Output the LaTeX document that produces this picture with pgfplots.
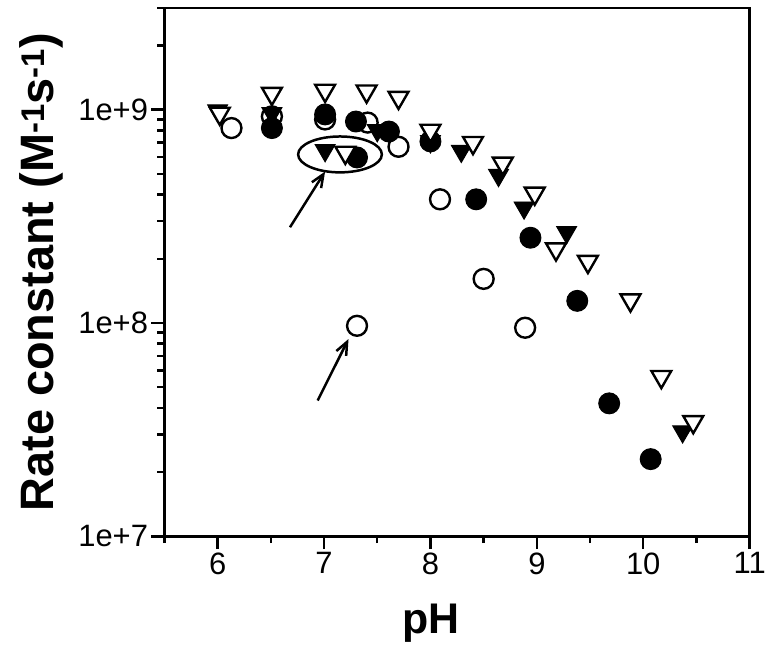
\documentclass[border=0pt]{standalone}
\usepackage{fontspec}
\setmainfont{Liberation Sans}
\usepackage{pgfplots}
\pgfplotsset{compat=1.18}
\usetikzlibrary{arrows.meta}
\begin{document}
\begin{tikzpicture}
\begin{axis}[
 width=587pt, height=530pt, scale only axis,
 xmin=5.5, xmax=11, ymin=1e7, ymax=3e9, ymode=log,
 clip=false,
 xtick={6,7,8,9,10,11}, minor xtick={5.5,6.5,7.5,8.5,9.5,10.5},
 ytick={1e7,1e8,1e9}, yticklabels={1e+7,1e+8,1e+9},
 minor ytick={2e7,3e7,4e7,5e7,6e7,7e7,8e7,9e7,2e8,3e8,4e8,5e8,6e8,7e8,8e8,9e8,2e9,3e9},
 tick align=outside, xtick pos=left, ytick pos=left,
 major tick length=13pt, minor tick length=7pt,
 tick style={black, line width=2.5pt},
 axis line style={line width=2.8pt},
 tick label style={font=\fontsize{31}{36}\selectfont},
 /pgf/number format/assume math mode=true,
 xlabel={pH},
 ylabel={Rate constant (M\textsuperscript{-1}s\textsuperscript{-1})},
 xlabel style={font=\fontsize{43}{50}\selectfont\bfseries, at={(axis description cs:0.455,-0.164)},anchor=center},
 ylabel style={font=\fontsize{47}{54}\selectfont\bfseries, at={(axis description cs:-0.21,0.5)},anchor=center},
]
% open circles
\addplot[only marks, mark=*, mark size=10pt, mark options={draw=black, fill=white, line width=2.4pt}] coordinates {
(6.13,8.2e8) (6.51,9.3e8) (7.01,9.0e8) (7.31,9.7e7) (7.41,8.7e8) (7.70,6.7e8) (8.09,3.8e8) (8.50,1.61e8) (8.89,9.5e7)
};
% filled circles
\addplot[only marks, mark=*, mark size=10.5pt, mark options={draw=black, fill=black, line width=1pt}] coordinates {
(6.51,8.2e8) (7.01,9.5e8) (7.30,8.8e8) (7.31,5.97e8) (7.61,7.9e8) (8.00,7.1e8) (8.43,3.8e8) (8.94,2.51e8) (9.38,1.27e8) (9.68,4.2e7) (10.07,2.3e7)
};
% filled triangles
\addplot[only marks, mark=triangle*, mark size=11.5pt, mark options={rotate=180, draw=black, fill=black, line width=1pt}] coordinates {
(6.00,9.9e8) (6.51,9.6e8) (7.01,6.45e8) (7.50,8.0e8) (8.00,7.1e8) (8.29,6.4e8) (8.64,4.93e8) (8.88,3.47e8) (9.28,2.66e8) (10.37,3.1e7)
};
% open triangles
\addplot[only marks, mark=triangle*, mark size=11.5pt, mark options={rotate=180, draw=black, fill=white, line width=2.4pt}] coordinates {
(6.02,9.6e8) (6.51,1.19e9) (7.01,1.23e9) (7.20,6.3e8) (7.40,1.22e9) (7.70,1.14e9) (8.00,7.99e8) (8.40,7.0e8) (8.68,5.6e8) (8.98,4.05e8) (9.18,2.22e8) (9.48,1.94e8) (9.88,1.28e8) (10.17,5.6e7) (10.47,3.44e7)
};
\draw[line width=2.5pt] (axis cs:7.15,6.17e8) ellipse [x radius=42pt, y radius=18pt];
\draw[line width=2.5pt, -{Straight Barb[length=13pt,width=11pt]}] (axis cs:6.68,2.81e8) -- (axis cs:7.01,5.13e8);
\draw[line width=2.5pt, -{Straight Barb[length=13pt,width=11pt]}] (axis cs:6.94,4.33e7) -- (axis cs:7.23,8.41e7);
\path (rel axis cs:-0.281,-0.232) (rel axis cs:1.029,1.015);
\end{axis}
\end{tikzpicture}
\end{document}
